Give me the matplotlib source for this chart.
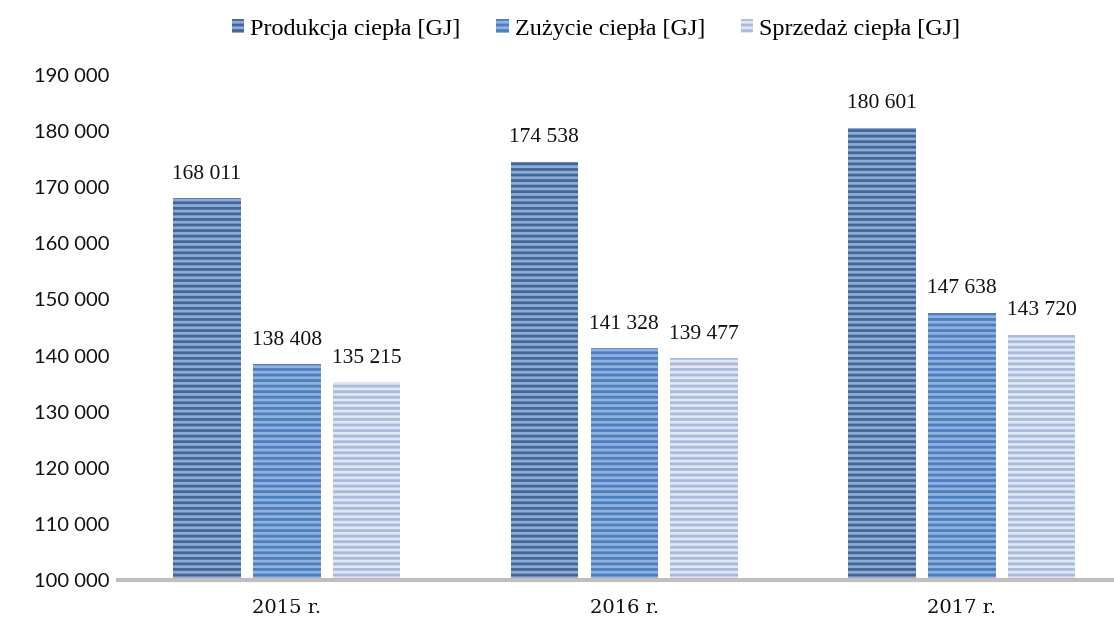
import numpy as np
import matplotlib.pyplot as plt
from matplotlib.ticker import FuncFormatter

# data
years = ['2015 r.', '2016 r.', '2017 r.']
series = ['Produkcja ciepła [GJ]', 'Zużycie ciepła [GJ]', 'Sprzedaż ciepła [GJ]']
produkcja = [168011, 174538, 180601]
zuzycie = [138408, 141328, 147638]
sprzedaz = [135215, 139477, 143720]

values = [produkcja, zuzycie, sprzedaz]
face = ['#93aad0', '#92b2de', '#e0e6f2']
stripe = ['#40679c', '#4c7ec0', '#a9bade']

def fmt(v):
    return f'{int(v):,}'.replace(',', ' ')

fig = plt.figure(figsize=(11.14, 6.22), dpi=100)
ax = fig.add_axes([118 / 1114, 42 / 622, 1 - 118 / 1114, (580 - 75) / 622])

plt.rcParams['hatch.linewidth'] = 2.0
x = np.arange(len(years))
w = 0.2
off = 0.237
for i, vals in enumerate(values):
    pos = x + (i - 1) * off
    ax.bar(pos, np.array(vals) - 100000, w, bottom=100000, color=face[i],
           edgecolor=stripe[i], hatch='---', linewidth=0, label=series[i])
    for p, v in zip(pos, vals):
        ax.text(p, v + 2600, fmt(v), ha='center', va='bottom',
                fontsize=15.5, family='Liberation Serif', color='#111111')

ax.set_xlim(-0.5, -0.5 + (1114 - 118) / 337.5)
ax.set_ylim(100000, 190000)
ax.set_yticks(np.arange(100000, 190001, 10000))
ax.yaxis.set_major_formatter(FuncFormatter(lambda v, p: fmt(v)))
ax.set_xticks(x)
ax.set_xticklabels(years, family='DejaVu Serif', fontsize=14)
for lab in ax.get_yticklabels():
    lab.set_family('Lato')
    lab.set_fontsize(14.5)
ax.tick_params(axis='both', length=0, colors='#111111')
ax.tick_params(axis='y', pad=6)
ax.tick_params(axis='x', pad=14)
for s in ['top', 'right', 'left']:
    ax.spines[s].set_visible(False)
ax.spines['bottom'].set_color('#bfbfbf')
ax.spines['bottom'].set_linewidth(3)

fig.legend(loc='upper center', bbox_to_anchor=(0.535, 1.005), ncol=3, frameon=False,
           prop={'family': 'Liberation Serif', 'size': 17.4},
           handlelength=0.5, handleheight=0.5, handletextpad=0.25, columnspacing=1.5)

fig.savefig('out.png', dpi=100)
